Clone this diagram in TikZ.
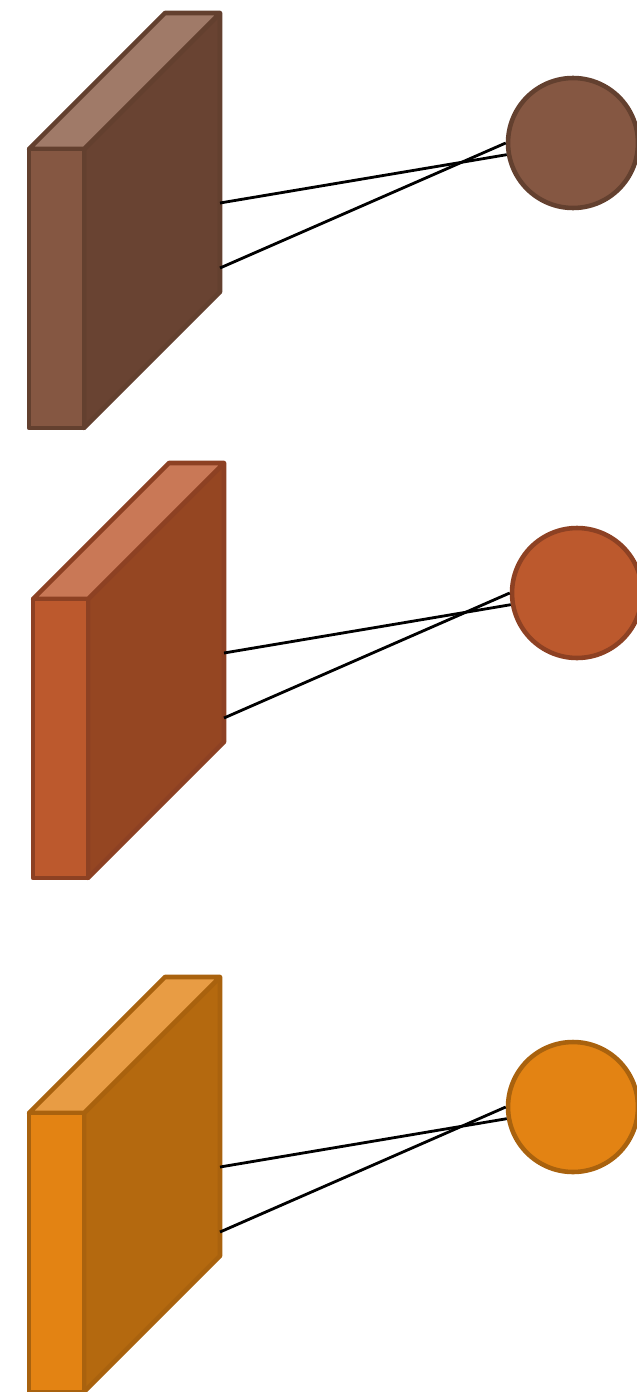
\documentclass[tikz,border=0pt]{standalone}
\usepackage{xcolor}
\usetikzlibrary{positioning, calc}

\definecolor{front1}{HTML}{855742}
\definecolor{side1}{HTML}{694332}
\definecolor{top1}{HTML}{A07A68}
\definecolor{edge1}{HTML}{63402F}
\definecolor{front2}{HTML}{BC592D}
\definecolor{side2}{HTML}{954622}
\definecolor{top2}{HTML}{C97856}
\definecolor{edge2}{HTML}{8D4123}
\definecolor{front3}{HTML}{E38313}
\definecolor{side3}{HTML}{B4690F}
\definecolor{top3}{HTML}{E89C44}
\definecolor{edge3}{HTML}{A9620E}

\tikzset{
  slab/.style={line width=2.6pt, line join=round},
  unit/.style={draw, circle, line width=2.6pt, inner sep=0pt, minimum size=2.6cm},
  link/.style={black, line width=1.6pt}
}

\begin{document}
\begin{tikzpicture}[x=0.02cm, y=-0.02cm]
    \useasboundingbox (0,0) rectangle (636,1392);
    \foreach \i/\xo/\yo in {1/29/149, 2/33/599, 3/29/1113} {
        % slab: side, top, front
        \draw [slab, draw=edge\i, fill=side\i] (\xo+55,\yo) -- ++(136,-136) -- ++(0,279) -- (\xo+55,\yo+279) -- cycle;
        \draw [slab, draw=edge\i, fill=top\i] (\xo,\yo) -- ++(136,-136) -- ++(55,0) -- (\xo+55,\yo) -- cycle;
        \draw [slab, draw=edge\i, fill=front\i] (\xo,\yo) rectangle (\xo+55,\yo+279);
        \coordinate (tapA\i) at (\xo+191,\yo+54);
        \coordinate (tapB\i) at (\xo+191,\yo+119);
        \node (unit\i) [unit, draw=edge\i, fill=front\i] at (\xo+544,\yo-6) {};
        \draw [link] (tapA\i) -- (unit\i.190);
        \draw [link] (tapB\i) -- (unit\i.180);
    }
\end{tikzpicture}
\end{document}
